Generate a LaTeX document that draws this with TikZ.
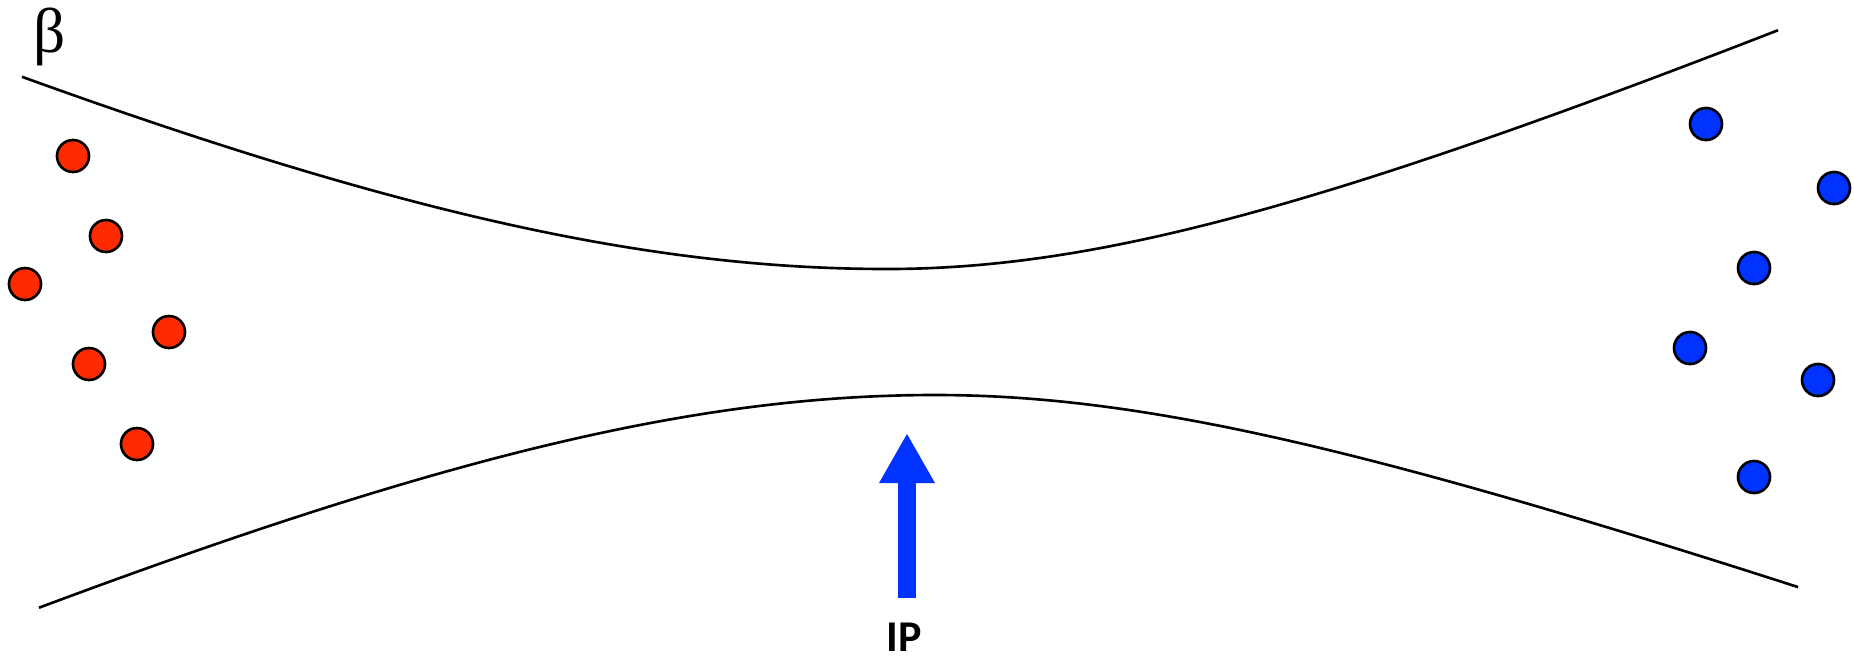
\documentclass[tikz,border=0pt]{standalone}
\usepackage{fontspec}
\usetikzlibrary{arrows.meta}
\newfontfamily\betafont{Liberation Serif}
\newfontfamily\ipfont{Carlito}
\definecolor{dotred}{HTML}{FF2A00}
\definecolor{dotblue}{HTML}{0033FF}
\begin{document}
\begin{tikzpicture}[x=0.01cm,y=-0.01cm,
  envelope/.style={line width=0.75pt, black, line join=round},
  reddot/.style={circle, draw=black, line width=0.75pt, fill=dotred, minimum size=0.32cm, inner sep=0pt},
  bluedot/.style={circle, draw=black, line width=0.75pt, fill=dotblue, minimum size=0.32cm, inner sep=0pt},
  iparrow/.style={line width=0.18cm, dotblue, -{Triangle[width=0.52cm,length=0.5cm]}}]
\useasboundingbox (0,0) rectangle (1854,657);
% beta label
\node[font=\betafont\fontsize{18}{20}\selectfont, anchor=center] (beta) at (50,37) {β};
% beam envelope: upper and lower
\draw[envelope] plot[domain=22:887, samples=60, smooth] (\x, {269 - 326*(sqrt(1+((\x-887)/700)^2)-1)})
  -- plot[domain=887:1778, samples=60, smooth] (\x, {269 - 196*(sqrt(1+((\x-887)/450)^2)-1)});
\draw[envelope] plot[domain=39:935, samples=60, smooth] (\x, {395 + 288*(sqrt(1+((\x-935)/630)^2)-1)})
  -- plot[domain=935:1798, samples=60, smooth] (\x, {395 + 154.6*(sqrt(1+((\x-935)/430)^2)-1)});
% red bunch
\node[reddot] (r1) at (73,156) {};
\node[reddot] (r2) at (106,236) {};
\node[reddot] (r3) at (25,284) {};
\node[reddot] (r4) at (169,332) {};
\node[reddot] (r5) at (89,364) {};
\node[reddot] (r6) at (137,444) {};
% blue bunch
\node[bluedot] (b1) at (1706,124) {};
\node[bluedot] (b2) at (1834,188) {};
\node[bluedot] (b3) at (1754,268) {};
\node[bluedot] (b4) at (1690,348) {};
\node[bluedot] (b5) at (1818,380) {};
\node[bluedot] (b6) at (1754,477) {};
% IP arrow
\coordinate (ipbase) at (907,598);
\coordinate (iptip) at (907,433);
\draw[iparrow] (ipbase) -- (iptip);
\node[font=\ipfont\bfseries\fontsize{12.5}{14}\selectfont] (ip) at (904,637) {IP};
\end{tikzpicture}
\end{document}
